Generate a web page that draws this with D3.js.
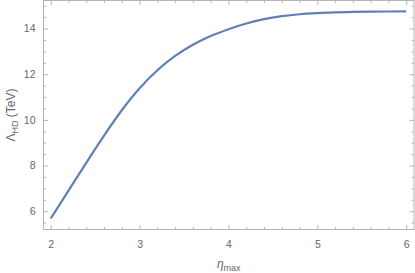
<!DOCTYPE html>
<html><head><meta charset="utf-8">
<script src="https://cdn.jsdelivr.net/npm/d3@7"></script>
<style>
html,body{margin:0;padding:0;background:#fff;}
svg{display:block;}
text{font-family:"Liberation Sans",Arial,sans-serif;fill:#666;}
</style></head>
<body>
<svg id="c" width="415" height="273"></svg>
<script>
const etaMax = [2.0,2.2,2.4,2.6,2.8,3.0,3.2,3.4,3.6,3.8,4.0,4.2,4.4,4.6,4.8,5.0,5.2,5.4,5.6,5.8,6.0];
const lambdaHD = [5.68,6.90,8.12,9.31,10.42,11.38,12.17,12.80,13.29,13.67,13.97,14.22,14.41,14.54,14.625,14.675,14.705,14.725,14.737,14.745,14.75];
const xTicks = [2,3,4,5,6];
const yTicks = [6,8,10,12,14];

const L=43.5, R=414, T=0.5, B=229.5;
const svg=d3.select("#c");
const x=d3.scaleLinear().domain([1.919,6.087]).range([L,R]);
const y=d3.scaleLinear().domain([5.199,15.226]).range([B,T]);
const frame="#b4b4b4";

const xMinor=d3.range(2,6.0001,0.2).filter(v=>Math.abs(v-Math.round(v))>1e-6);
const yMinor=d3.range(5.5,15.01,0.5).filter(v=>Math.abs(v/2-Math.round(v/2))>1e-6);

function axis(gen, ticks, len, sel, labels){
  const g=svg.append("g").attr("transform",sel);
  g.call(gen.tickValues(ticks).tickSize(len).tickPadding(4).tickFormat(labels?d3.format("d"):""));
  g.select(".domain").remove();
  g.selectAll("line").attr("stroke",frame).attr("stroke-width",1);
  g.selectAll("text").attr("font-size","10.5px").attr("fill","#666").attr("font-family","Liberation Sans, Arial, sans-serif");
  return g;
}
// bottom
axis(d3.axisTop(x),xMinor,2.5,`translate(0,${B})`,false);
const gb=axis(d3.axisTop(x),xTicks,4.5,`translate(0,${B})`,true);
gb.selectAll("text").attr("dy",null).attr("y",10).attr("dominant-baseline","hanging");
// top
axis(d3.axisBottom(x),xMinor,2.5,`translate(0,${T})`,false);
axis(d3.axisBottom(x),xTicks,4.5,`translate(0,${T})`,false);
// left
axis(d3.axisRight(y),yMinor,2.5,`translate(${L},0)`,false);
const gl=axis(d3.axisRight(y),yTicks,4.5,`translate(${L},0)`,true);
gl.selectAll("text").attr("x",-8).attr("text-anchor","end");
// right
axis(d3.axisLeft(y),yMinor,2.5,`translate(${R},0)`,false);
axis(d3.axisLeft(y),yTicks,4.5,`translate(${R},0)`,false);

svg.append("rect").attr("x",L).attr("y",T).attr("width",R-L).attr("height",B-T)
  .attr("fill","none").attr("stroke",frame).attr("stroke-width",1);

const line=d3.line().x((d,i)=>x(etaMax[i])).y(d=>y(d)).curve(d3.curveMonotoneX);
svg.append("path").datum(lambdaHD).attr("d",line).attr("fill","none")
  .attr("stroke","#5e81b5").attr("stroke-width",2.2);

// labels
const yl=svg.append("text").attr("transform",`translate(15,${(T+B)/2}) rotate(-90)`)
  .attr("text-anchor","middle").attr("font-size","12px");
yl.append("tspan").text("Λ");
yl.append("tspan").attr("font-size","9px").attr("dy",3).text("HD");
yl.append("tspan").attr("dy",-3).text(" (TeV)");

const xl=svg.append("text").attr("x",(L+R)/2).attr("y",268).attr("text-anchor","middle").attr("font-size","12px");
xl.append("tspan").attr("font-style","italic").text("η");
xl.append("tspan").attr("font-size","9px").attr("dy",3).text("max");
</script>
</body></html>
